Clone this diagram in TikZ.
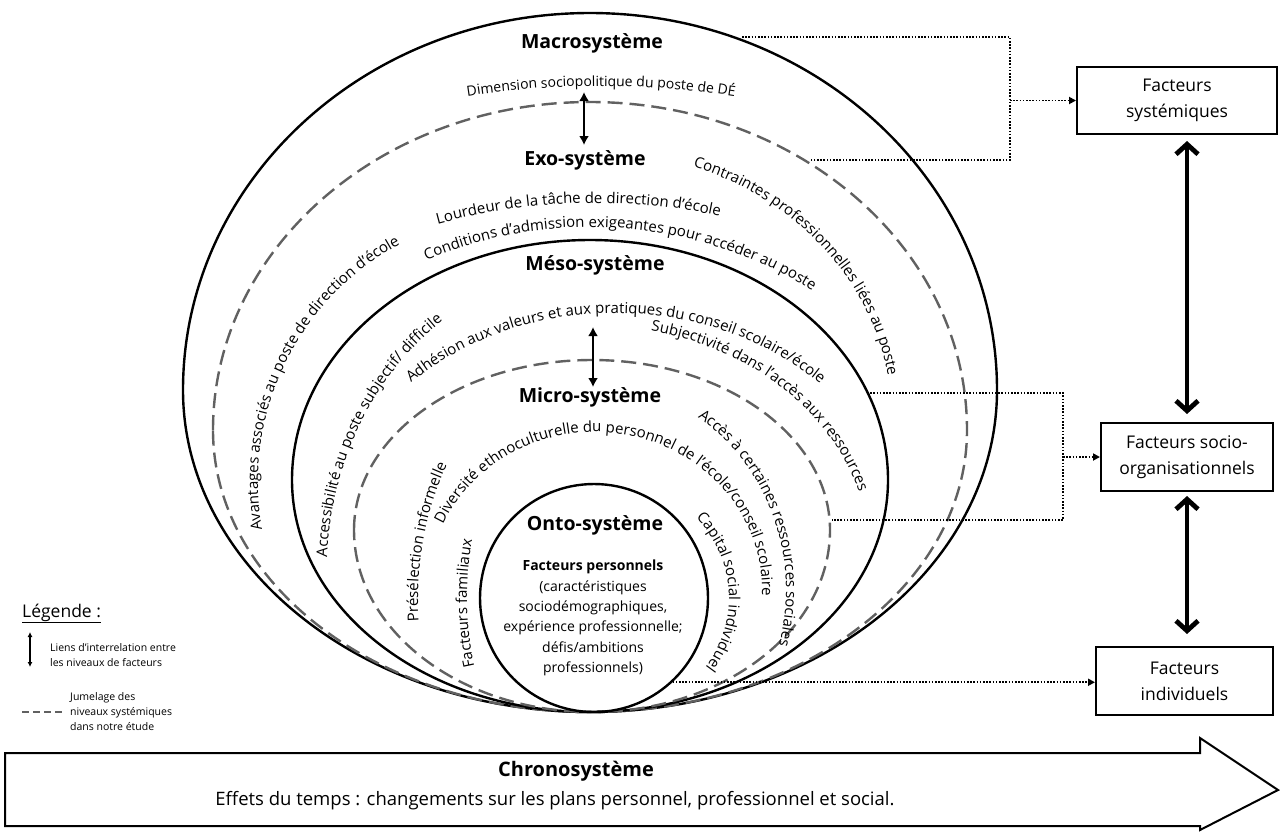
\documentclass[tikz,border=0pt]{standalone}
\usepackage{fontspec}
\setmainfont{Open Sans}
\usetikzlibrary{arrows.meta,decorations.text}
\newcommand\fttl{\fontsize{19.5}{23}\selectfont\bfseries}
\newcommand\fcur{\fontsize{15}{18}\selectfont}
\newcommand\fdim{\fontsize{14}{17}\selectfont}
\newcommand\fbx{\fontsize{17.5}{26}\selectfont}
\newcommand\fonto{\fontsize{14}{20.4}\selectfont}
\newcommand\fleg{\fontsize{10.5}{15}\selectfont}
\tikzset{
  x=1pt,y=1pt,
  solidring/.style={draw=black,line width=2.4pt},
  dashring/.style={draw=black!62,line width=2.4pt,dash pattern=on 15pt off 7pt},
  dotl/.style={draw=black,line width=1.8pt,dash pattern=on 1.6pt off 1.6pt},
  dotarr/.style={dotl,-{Triangle[length=7pt,width=7pt]}},
  ttl/.style={font=\fttl,inner sep=0pt},
  ctc/.style={decorate,decoration={text along path,text align=center,text={#1}}},
  fbox/.style={draw=black,line width=2pt,align=center,font=\fbx,inner sep=0pt},
  lvlarrow/.style={line width=2.6pt,{Latex[length=9pt,width=10pt]}-{Latex[length=9pt,width=10pt]}},
  bigarrow/.style={line width=4.8pt,{Straight Barb[length=10pt,width=22pt]}-{Straight Barb[length=10pt,width=22pt]}},
}
\begin{document}
\begin{tikzpicture}
\useasboundingbox (0,0) rectangle (1281,-831);
% rings
\draw[solidring] (183,-390) arc[start angle=180,end angle=0,x radius=407,y radius=377]
  arc[start angle=0,end angle=-180,x radius=407,y radius=322] -- cycle;
\draw[dashring] (213,-430) arc[start angle=180,end angle=0,x radius=377,y radius=328]
  arc[start angle=0,end angle=-180,x radius=377,y radius=282] -- cycle;
\draw[solidring] (292,-480) arc[start angle=180,end angle=0,x radius=298,y radius=240]
  arc[start angle=0,end angle=-180,x radius=298,y radius=232] -- cycle;
\draw[dashring] (354,-530) arc[start angle=180,end angle=0,x radius=238,y radius=170]
  arc[start angle=0,end angle=-180,x radius=238,y radius=182] -- cycle;
\node[draw=black,line width=2.4pt,circle,minimum size=228pt,inner sep=0pt] (onto) at (594,-598) {};

% titles
\node[ttl] (macro) at (592,-43) {Macrosystème};
\node[ttl] (exo) at (585,-160) {Exo-système};
\node[ttl] (meso) at (595,-265) {Méso-système};
\node[ttl] (micro) at (590,-397) {Micro-système};
\node[ttl] (ontot) at (595,-525) {Onto-système};

% level arrows
\coordinate (a1t) at (584,-92);
\coordinate (a1b) at (584,-145);
\coordinate (a2t) at (593,-327);
\coordinate (a2b) at (593,-387);
\draw[lvlarrow] (a1t) -- (a1b);
\draw[lvlarrow] (a2t) -- (a2b);

% curved texts
\path[ctc={|\fdim|Dimension sociopolitique du poste de DÉ}] (601,-966) ++(102:880) arc[start angle=102,end angle=78,radius=880];
\path[ctc={|\fcur|Lourdeur de la tâche de direction d’école}] (595,-803) ++(107.6:600) arc[start angle=107.6,end angle=75.6,radius=600];
\path[ctc={|\fcur|Conditions d’admission exigeantes pour accéder au poste}] (590,-647) ++(120.5:420) arc[start angle=120.5,end angle=50.5,radius=420];
\path[ctc={|\fcur|Contraintes professionnelles liées au poste}] (600,-420) ++(84.9:292 and 267) arc[start angle=84.9,end angle=-5.1,x radius=292,y radius=267];
\path[ctc={|\fcur|Avantages associés au poste de direction d’école}] (528,-482) ++(199.2:270) arc[start angle=199.2,end angle=109.2,radius=270];
\path[ctc={|\fcur|Accessibilité au poste subjectif/ difficile}] (600,-570) ++(190.8:273 and 305) arc[start angle=190.8,end angle=110.8,x radius=273,y radius=305];
\path[ctc={|\fcur|Adhésion aux valeurs et aux pratiques du conseil scolaire/école}] (615,-555) ++(139.8:290 and 242) arc[start angle=139.8,end angle=39.8,x radius=290,y radius=242];
\path[ctc={|\fcur|Subjectivité dans l’accès aux ressources}] (595,-560) ++(86.9:276 and 234) arc[start angle=86.9,end angle=6.9,x radius=276,y radius=234];
\path[ctc={|\fcur|Diversité ethnoculturelle du personnel de l’école/conseil scolaire}] (595,-590) ++(161.7:167 and 158) arc[start angle=161.7,end angle=-8.3,x radius=167,y radius=158];
\path[ctc={|\fcur|Présélection informelle}] (600,-600) ++(195.6:182 and 250) arc[start angle=195.6,end angle=135.6,x radius=182,y radius=250];
\path[ctc={|\fcur|Facteurs familiaux}] (590,-598) ++(209.7:123 and 200) arc[start angle=209.7,end angle=153.7,x radius=123,y radius=200];
\path[ctc={|\fcur|Capital social individuel}] (590,-598) ++(48.2:139 and 124) arc[start angle=48.2,end angle=-41.8,x radius=139,y radius=124];
\path[ctc={|\fcur|Accès à certaines ressources sociales}] (590,-590) ++(65.7:196 and 207) arc[start angle=65.7,end angle=-24.3,x radius=196,y radius=207];

% onto content
\node[align=center,font=\fonto,inner sep=0pt] (ontoc) at (593,-618) {{\bfseries Facteurs personnels}\\(caractéristiques\\sociodémographiques,\\expérience professionnelle;\\défis/ambitions\\professionnels)};

% boxes
\node[fbox,minimum width=200pt,minimum height=67pt] (sys) at (1177,-100.5) {Facteurs\\systémiques};
\node[fbox,minimum width=172pt,minimum height=68pt] (socio) at (1187,-457) {Facteurs socio-\\organisationnels};
\node[fbox,minimum width=177pt,minimum height=68pt] (indiv) at (1184.5,-681) {Facteurs\\individuels};
\coordinate (b1t) at (1187,-141);
\coordinate (b1b) at (1187,-414);
\coordinate (b2t) at (1187,-496);
\coordinate (b2b) at (1187,-634);
\draw[bigarrow] (b1t) -- (b1b);
\draw[bigarrow] (b2t) -- (b2b);

% dotted connectors
\coordinate (d1a) at (742,-37);
\coordinate (d1b) at (1010,-37);
\coordinate (d1c) at (1010,-160);
\coordinate (d1d) at (810,-160);
\coordinate (d1m) at (1010,-100.5);
\draw[dotl] (d1a) -- (d1b) -- (d1c) -- (d1d);
\draw[dotarr] (d1m) -- (sys.west);
\coordinate (d2a) at (867,-393);
\coordinate (d2b) at (1063,-393);
\coordinate (d2c) at (1063,-520);
\coordinate (d2d) at (832,-520);
\coordinate (d2m) at (1063,-457);
\draw[dotl] (d2a) -- (d2b) -- (d2c) -- (d2d);
\draw[dotarr] (d2m) -- (socio.west);
\draw[dotarr] (onto.-47) -- (onto.-47 -| indiv.west);

% legend
\node[anchor=base west,font=\fontsize{17.5}{21}\selectfont,inner sep=0pt] (leg) at (22,-617) {\underline{Légende :}};
\coordinate (la1) at (30,-632);
\coordinate (la2) at (30,-667);
\draw[line width=1.6pt,{Latex[length=5pt,width=5pt]}-{Latex[length=5pt,width=5pt]}] (la1) -- (la2);
\node[anchor=west,align=left,font=\fleg,inner sep=0pt] (legt1) at (50,-655) {Liens d’interrelation entre\\les niveaux de facteurs};
\coordinate (ld1) at (22,-712);
\coordinate (ld2) at (63,-712);
\draw[draw=black!62,line width=2.4pt,dash pattern=on 7pt off 4pt] (ld1) -- (ld2);
\node[anchor=west,align=left,font=\fleg,inner sep=0pt] (legt2) at (70,-712) {Jumelage des\\niveaux systémiques\\dans notre étude};

% chronosysteme
\draw[line width=2pt] (5,-753) -- (1200,-753) -- (1200,-738) -- (1278,-790) -- (1200,-830) -- (1200,-826) -- (5,-826) -- cycle;
\node[font=\fontsize{20}{24}\selectfont\bfseries,inner sep=0pt] (chrono) at (576,-771) {Chronosystème};
\node[font=\fontsize{18.5}{22}\selectfont,inner sep=0pt] (chronot) at (555,-801) {Effets du temps : changements sur les plans personnel, professionnel et social.};
\end{tikzpicture}
\end{document}
